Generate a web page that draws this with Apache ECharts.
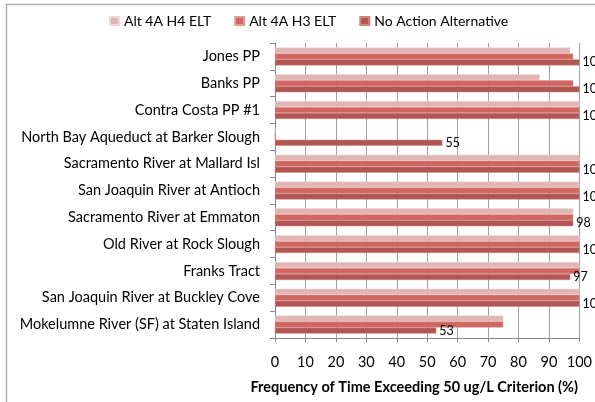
<!DOCTYPE html>
<html><head><meta charset="utf-8">
<script src="https://cdn.jsdelivr.net/npm/echarts@6/dist/echarts.min.js"></script>
<style>html,body{margin:0;padding:0;background:#fff}#c{width:595px;height:402px}</style>
</head><body><div id="c"></div>
<script>
const categories = ["Jones PP","Banks PP","Contra Costa PP #1","North Bay Aqueduct at Barker Slough","Sacramento River at Mallard Isl","San Joaquin River at Antioch","Sacramento River at Emmaton","Old River at Rock Slough","Franks Tract","San Joaquin River at Buckley Cove","Mokelumne River (SF) at Staten Island"];
const altH4 = [97, 87, 100, 0, 100, 100, 98, 100, 100, 100, 75];
const altH3 = [98, 98, 100, 0, 100, 100, 98, 100, 100, 100, 75];
const noAction = [100, 100, 100, 55, 100, 100, 98, 100, 97, 100, 53];
const xTicks = [0,10,20,30,40,50,60,70,80,90,100];
const seriesNames = ["Alt 4A H4 ELT","Alt 4A H3 ELT","No Action Alternative"];
const FONT = "Lato";
const chart = echarts.init(document.getElementById('c'), null, {renderer:'canvas'});
chart.setOption({
  animation:false,
  textStyle:{fontFamily:FONT},
  graphic:[{type:'rect',shape:{x:6.5,y:4.5,width:800,height:600},style:{fill:'none',stroke:'#b0b0b0',lineWidth:1.5},silent:true}],
  legend:{data:seriesNames,top:9,left:104,itemWidth:9,itemHeight:8,itemGap:23,icon:'rect',
    textStyle:{fontFamily:FONT,fontSize:14,color:'#000'}},
  grid:{left:275,right:14,top:43,bottom:64,containLabel:false},
  xAxis:{type:'value',min:0,max:100,interval:10,
    axisLine:{show:true,lineStyle:{color:'#888',width:1}},
    axisTick:{show:true,length:4,lineStyle:{color:'#888'}},
    splitLine:{show:true,lineStyle:{color:'#a0a0a0',width:1}},
    axisLabel:{fontFamily:FONT,fontSize:14.5,color:'#000',margin:17,formatter:v=>xTicks.includes(v)?String(v):''},
    name:'Frequency of Time Exceeding 50 ug/L Criterion (%)',nameLocation:'middle',nameGap:42,
    nameTextStyle:{fontFamily:FONT,fontSize:14.5,fontWeight:'bold',color:'#000',padding:[0,26,0,0]}},
  yAxis:{type:'category',data:categories,inverse:true,
    axisLine:{show:true,lineStyle:{color:'#888',width:1}},
    axisTick:{show:true,length:5,lineStyle:{color:'#888'}},
    axisLabel:{fontFamily:FONT,fontSize:14.5,color:'#000',margin:15}},
  series:[
    {name:seriesNames[0],type:'bar',data:altH4,barCategoryGap:'33%',barGap:'0%',
      itemStyle:{color:'#e2b5b5',borderColor:'#f0d8d8',borderWidth:0.5}},
    {name:seriesNames[1],type:'bar',data:altH3,barGap:'0%',
      itemStyle:{color:'#cf6661',borderColor:'#e49994',borderWidth:0.5}},
    {name:seriesNames[2],type:'bar',data:noAction,barGap:'0%',
      itemStyle:{color:'#b35653',borderColor:'#c98683',borderWidth:0.5},
      label:{show:true,position:'right',distance:3,fontFamily:FONT,fontSize:12.5,color:'#000'}}
  ]
});
</script></body></html>
